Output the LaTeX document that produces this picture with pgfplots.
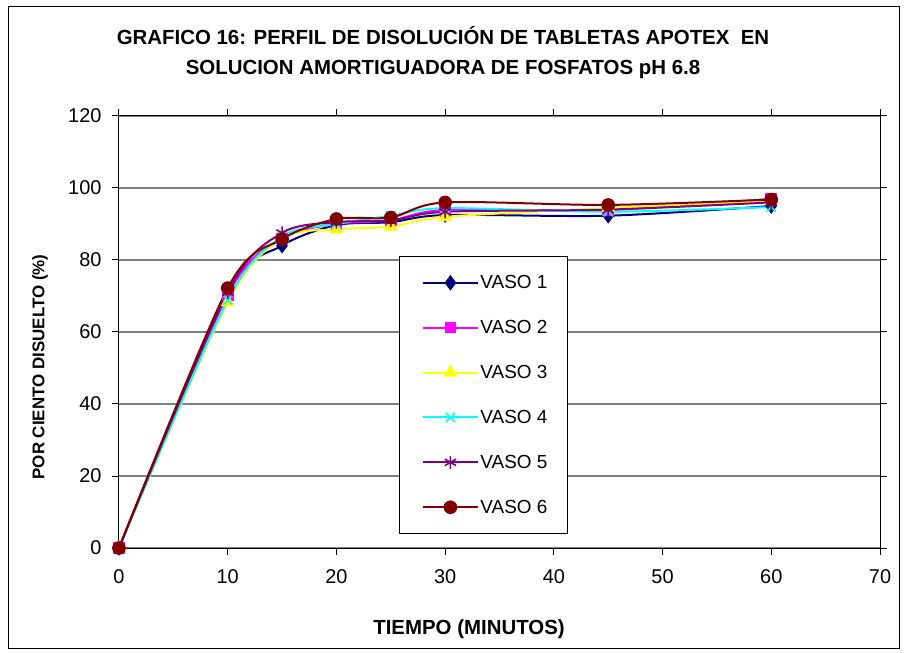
\documentclass[border=0pt]{standalone}
\usepackage{pgfplots}
\pgfplotsset{compat=1.18}
\usepackage{fontspec}
\setmainfont{Liberation Sans}
\definecolor{vone}{RGB}{0,0,128}
\definecolor{vtwo}{RGB}{255,0,255}
\definecolor{vthree}{RGB}{255,255,0}
\definecolor{vfour}{RGB}{0,255,255}
\definecolor{vfive}{RGB}{128,0,128}
\definecolor{vsix}{RGB}{128,0,0}
\pgfplotstableread{
t v1 v2 v3 v4 v5 v6
0 0 0 0 0 0 0
10 70.8 70.3 68.3 68.9 71.0 72.2
15 84.0 86.0 86.0 86.5 87.5 85.8
20 89.7 90.0 88.5 90.0 90.5 91.4
25 90.5 91.0 89.3 92.3 91.0 91.8
30 92.5 93.9 92.0 94.4 93.4 96.0
45 92.3 93.9 94.4 93.4 94.0 95.3
60 95.0 97.0 96.5 94.7 96.0 96.8
}\data
\begin{document}
\begin{tikzpicture}
\path[use as bounding box] (-119bp,-105bp) rectangle (787bp,548bp);
\draw[line width=1bp] (-110bp,-100bp) rectangle (780bp,541bp);
\begin{axis}[
  at={(0bp,0bp)}, anchor=south west,
  scale only axis, width=761bp, height=432bp,
  xmin=0, xmax=70, ymin=0, ymax=120,
  xtick={0,10,...,70}, ytick={0,20,...,120},
  tick align=outside, major tick length=7bp,
  axis line style={black, line width=1bp},
  tick style={black, line width=1bp},
  ymajorgrids, grid style={gray, line width=1.5bp},
  /pgf/number format/assume math mode=true,
  ticklabel style={font=\fontsize{20}{22}\selectfont},
  xticklabel style={yshift=-11bp},
  yticklabel style={xshift=-7bp},
  legend style={at={(0.368,0.0324)}, anchor=south west, draw=black, fill=white,
    line width=0.8bp, font=\fontsize{19}{20}\selectfont, row sep=26.2bp,
    inner xsep=23bp, inner ysep=17bp},
  legend cell align=left,
  legend image code/.code={\draw[mark repeat=2,mark phase=2] plot coordinates {(0bp,0bp) (27bp,0bp) (54bp,0bp)};},
  every axis plot/.append style={line width=2bp, smooth, tension=0.5},
]
\addplot[color=vone, mark=diamond*, mark size=7bp, mark options={solid, fill=vone, line width=1bp}] table[x=t,y=v1] {\data};
\addlegendentry{VASO 1\hspace*{-5bp}}
\addplot[color=vtwo, mark=square*, mark size=5.3bp, mark options={solid, fill=vtwo, line width=1bp}] table[x=t,y=v2] {\data};
\addlegendentry{VASO 2\hspace*{-5bp}}
\addplot[color=vthree, mark=triangle*, mark size=7bp, mark options={solid, fill=vthree, line width=1bp}] table[x=t,y=v3] {\data};
\addlegendentry{VASO 3\hspace*{-5bp}}
\addplot[color=vfour, mark=x, mark size=6.5bp, mark options={solid, line width=1.6bp}] table[x=t,y=v4] {\data};
\addlegendentry{VASO 4\hspace*{-5bp}}
\addplot[color=vfive, mark=asterisk, mark size=6.5bp, mark options={solid, line width=1.6bp}] table[x=t,y=v5] {\data};
\addlegendentry{VASO 5\hspace*{-5bp}}
\addplot[color=vsix, mark=*, mark size=6.3bp, mark options={solid, fill=vsix, line width=1bp}] table[x=t,y=v6] {\data};
\addlegendentry{VASO 6\hspace*{-5bp}}
\end{axis}
\node[align=center, font=\fontsize{20.5}{30}\selectfont\bfseries] at (324bp,495bp)
  {GRAFICO 16: PERFIL DE DISOLUCIÓN DE TABLETAS APOTEX \ EN\\SOLUCION AMORTIGUADORA DE FOSFATOS pH 6.8};
\node[rotate=90, font=\fontsize{17}{20}\selectfont\bfseries] at (-79bp,181bp) {POR CIENTO DISUELTO (\%)};
\node[font=\fontsize{20.5}{22}\selectfont\bfseries] at (350bp,-81bp) {TIEMPO (MINUTOS)};
\end{tikzpicture}
\end{document}
